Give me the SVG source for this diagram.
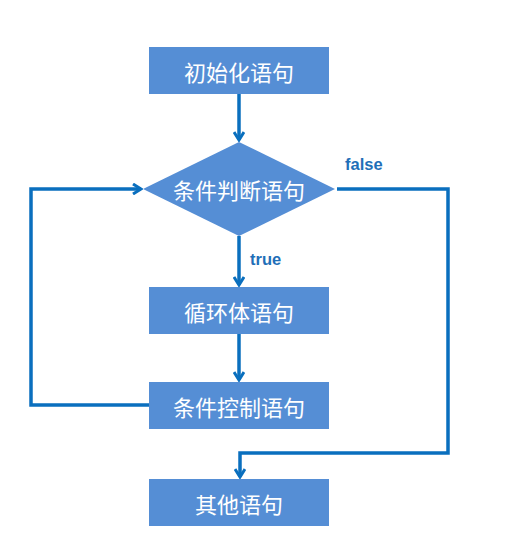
<svg xmlns="http://www.w3.org/2000/svg" width="509" height="548" viewBox="0 0 509 548">
<style>
.node{fill:#558ed5;}
.lbl{fill:#ffffff;font-family:"Noto Sans CJK SC","Noto Sans",sans-serif;font-size:22px;text-anchor:middle;dominant-baseline:central;}
.edge{fill:none;stroke:#0a6fbe;stroke-width:3.5;stroke-linejoin:miter;}
.elbl{fill:#1f6fb8;font-family:"Liberation Sans",Arial,sans-serif;font-weight:bold;font-size:16.5px;}
</style>
<defs>
<marker id="arr" viewBox="0 0 12 12" refX="10" refY="6" markerWidth="12" markerHeight="12" markerUnits="userSpaceOnUse" orient="auto">
<polyline points="2,1 10,6 2,11" fill="none" stroke="#0a6fbe" stroke-width="3"/>
</marker>
</defs>
<rect width="509" height="548" fill="#ffffff"/>
<g id="connectors">
<line class="edge" x1="239" y1="94" x2="239" y2="140" marker-end="url(#arr)"/>
<line class="edge" x1="239" y1="236" x2="239" y2="285" marker-end="url(#arr)"/>
<line class="edge" x1="239" y1="334" x2="239" y2="380" marker-end="url(#arr)"/>
<polyline class="edge" points="149,405 31,405 31,189 141,189" marker-end="url(#arr)"/>
<polyline class="edge" points="337,189 448,189 448,453 240,453 240,477" marker-end="url(#arr)"/>
<text class="elbl" x="345" y="170">false</text>
<text class="elbl" x="250" y="265">true</text>
</g>
<g id="init">
<rect class="node" x="149" y="47" width="180" height="47"/>
<text class="lbl" x="239" y="71">初始化语句</text>
</g>
<g id="cond">
<polygon class="node" points="239,142 335,189 239,236 143,189"/>
<text class="lbl" x="239" y="189">条件判断语句</text>
</g>
<g id="body">
<rect class="node" x="149" y="287" width="180" height="47"/>
<text class="lbl" x="239" y="311">循环体语句</text>
</g>
<g id="ctrl">
<rect class="node" x="149" y="382" width="180" height="47"/>
<text class="lbl" x="239" y="406">条件控制语句</text>
</g>
<g id="other">
<rect class="node" x="149" y="479" width="180" height="47"/>
<text class="lbl" x="239" y="503">其他语句</text>
</g>
</svg>
